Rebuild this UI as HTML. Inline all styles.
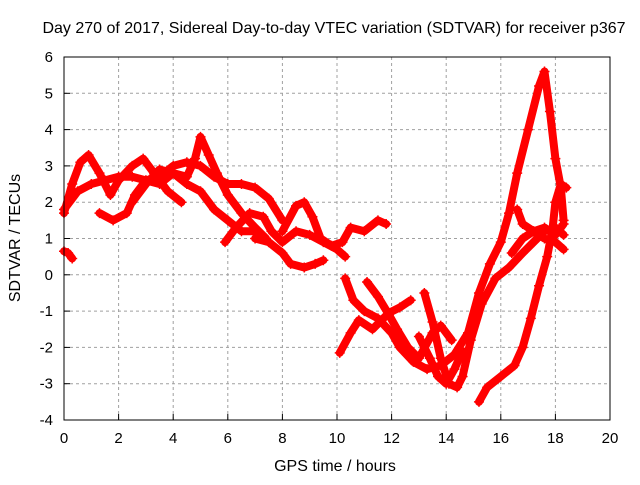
<!DOCTYPE html>
<html><head><meta charset="utf-8"><style>
body{margin:0;background:#fff}
svg text{font-family:"Liberation Sans",sans-serif;font-size:15px;fill:#000}
svg text.big{font-size:16px}
</style></head><body>
<svg id="chart" width="640" height="480">
<rect width="640" height="480" fill="#fff"/>
<text class="big" x="334" y="33" text-anchor="middle">Day 270 of 2017, Sidereal Day-to-day VTEC variation (SDTVAR) for receiver p367</text>
<text class="big" x="335" y="471" text-anchor="middle">GPS time / hours</text>
<text class="big" transform="translate(20,238) rotate(-90)" text-anchor="middle">SDTVAR / TECUs</text>
<g id="grid"></g><g id="ticks"></g><g id="data"></g>
<rect x="64" y="57" width="546" height="363" fill="none" stroke="#000" stroke-width="1"/>
</svg>
<script>
const xTicks=[0,2,4,6,8,10,12,14,16,18,20];
const yTicks=[-4,-3,-2,-1,0,1,2,3,4,5,6];
const sA=[[0,1.7],[0.3,2.5],[0.6,3.1],[0.9,3.3],[1.3,2.8],[1.7,2.2],[2.0,2.6],[2.5,3.0],[2.9,3.2],[3.3,2.8],[3.8,2.3],[4.3,2.0]];
const sB=[[0,1.8],[0.5,2.3],[1.0,2.5],[1.5,2.6],[2.0,2.7],[2.5,2.7],[3.0,2.6],[3.5,2.7],[4.0,3.0],[4.5,3.1],[5.0,3.0],[5.5,2.7],[6.0,2.5],[6.5,2.5],[7.0,2.4],[7.5,2.1],[8.0,1.5]];
const sC=[[1.3,1.7],[1.8,1.5],[2.3,1.7],[2.6,2.2],[3.0,2.6],[3.5,2.5],[4.0,2.8],[4.5,2.7],[4.8,3.2],[5.0,3.8],[5.3,3.3],[5.6,2.8],[6.0,2.2],[6.5,1.7],[7.0,1.3],[7.4,1.0]];
const sD=[[2.5,2.0],[3.0,2.5],[3.5,2.9],[4.0,2.8],[4.5,2.5],[5.0,2.3],[5.5,1.8],[6.0,1.5],[6.5,1.2],[7.0,1.2]];
const sE=[[5.9,0.9],[6.3,1.3],[6.8,1.7],[7.3,1.6],[7.6,1.2],[8.0,0.9],[8.5,1.2],[9.0,1.1],[9.5,0.9],[10.0,0.7],[10.3,0.5]];
const sF=[[8.0,1.2],[8.5,1.9],[8.8,2.0],[9.1,1.6],[9.4,1.0],[9.8,0.8],[10.2,0.9],[10.5,1.3],[11.0,1.2],[11.5,1.5],[11.8,1.4]];
const sG=[[7.0,1.0],[7.5,0.9],[8.0,0.6],[8.3,0.3],[8.8,0.2],[9.2,0.3],[9.5,0.4]];
const sH=[[0,0.65],[0.15,0.6],[0.3,0.45]];
const sI=[[10.1,-2.15],[10.5,-1.6],[10.8,-1.25],[11.3,-1.5],[11.9,-1.05],[12.3,-0.9],[12.7,-0.7]];
const sJ=[[10.3,-0.1],[10.6,-0.7],[11.0,-1.0],[11.5,-1.2],[12.0,-1.6],[12.3,-2.0],[12.8,-2.4],[13.3,-2.6],[13.8,-2.5],[14.3,-2.2],[14.8,-1.6],[15.2,-0.5],[15.6,0.3],[16.0,0.9],[16.3,1.7],[16.6,2.8],[17.0,4.0],[17.4,5.2],[17.6,5.6],[17.8,4.5],[18.0,3.2],[18.2,2.4],[18.3,1.5]];
const sK=[[11.1,-0.2],[11.5,-0.6],[11.9,-1.1],[12.2,-1.5],[12.6,-2.0],[13.0,-2.3],[13.5,-1.6],[13.8,-1.4],[14.2,-1.8]];
const sL=[[13.2,-0.5],[13.5,-1.3],[13.8,-2.3],[14.1,-3.0],[14.4,-3.1],[14.6,-2.8],[14.9,-1.8],[15.3,-0.8],[15.8,-0.1],[16.3,0.2],[16.8,0.6],[17.2,0.9],[17.6,1.2],[18.0,1.3],[18.3,1.1]];
const sM=[[15.2,-3.5],[15.5,-3.1],[16.0,-2.8],[16.5,-2.5],[16.8,-2.0],[17.1,-1.2],[17.4,-0.3],[17.7,0.5],[17.9,1.3],[18.0,2.0],[18.2,2.5],[18.4,2.4]];
const sN=[[16.4,0.6],[16.8,1.0],[17.2,1.2],[17.6,1.0],[18.0,0.9],[18.3,0.7]];
const sO=[[16.6,1.8],[16.8,1.4],[17.2,1.2],[17.6,1.3],[18.0,1.1],[18.3,1.4]];
const sP=[[13.0,-1.7],[13.4,-2.3],[13.7,-2.8],[14.0,-3.0],[14.3,-2.6],[14.6,-2.1]];
const seriesList=[sA,sB,sC,sD,sE,sF,sG,sH,sI,sJ,sK,sL,sM,sN,sO,sP];
const X=h=>64+h*27.3, Y=v=>57+(6-v)*36.3;
const NS='http://www.w3.org/2000/svg';
const grid=document.getElementById('grid'),ticks=document.getElementById('ticks'),data=document.getElementById('data');
function mk(tag,attrs,parent){const e=document.createElementNS(NS,tag);for(const k in attrs)e.setAttribute(k,attrs[k]);parent.appendChild(e);return e;}
xTicks.forEach(t=>{
  if(t>0&&t<20){const g=mk('line',{x1:X(t),x2:X(t),y1:57,y2:420,stroke:'#a0a0a0','stroke-dasharray':'3,3'},grid);
  
  }
  const tm=mk('line',{x1:X(t),x2:X(t),y1:420,y2:414,stroke:'#000'},ticks);
  
  
  const tx=mk('text',{x:X(t),y:443,'text-anchor':'middle'},ticks);tx.textContent=t;
  
  
});
yTicks.forEach(t=>{
  if(t>-4&&t<6){const g=mk('line',{x1:64,x2:610,y1:Y(t),y2:Y(t),stroke:'#a0a0a0','stroke-dasharray':'3,3'},grid);
  
  }
  const tm=mk('line',{x1:64,x2:70,y1:Y(t),y2:Y(t),stroke:'#000'},ticks);
  
  
  const tx=mk('text',{x:53,y:Y(t)+5,'text-anchor':'end'},ticks);tx.textContent=t;
  
  
});
seriesList.forEach((s,i)=>{
  const pl=mk('polyline',{points:s.map(p=>X(p[0])+','+Y(p[1])).join(' '),fill:'none',stroke:'#ff0000','stroke-width':8,'stroke-linejoin':'round','stroke-linecap':'round'},data);
  
  
  s.forEach(p=>{
    const x=X(p[0]),y=Y(p[1]);
    const m=mk('path',{d:`M${x-5},${y}h10M${x},${y-5}v10`,stroke:'#ff0000','stroke-width':1.5},data);
    
    
  });
});
</script>
</body></html>
